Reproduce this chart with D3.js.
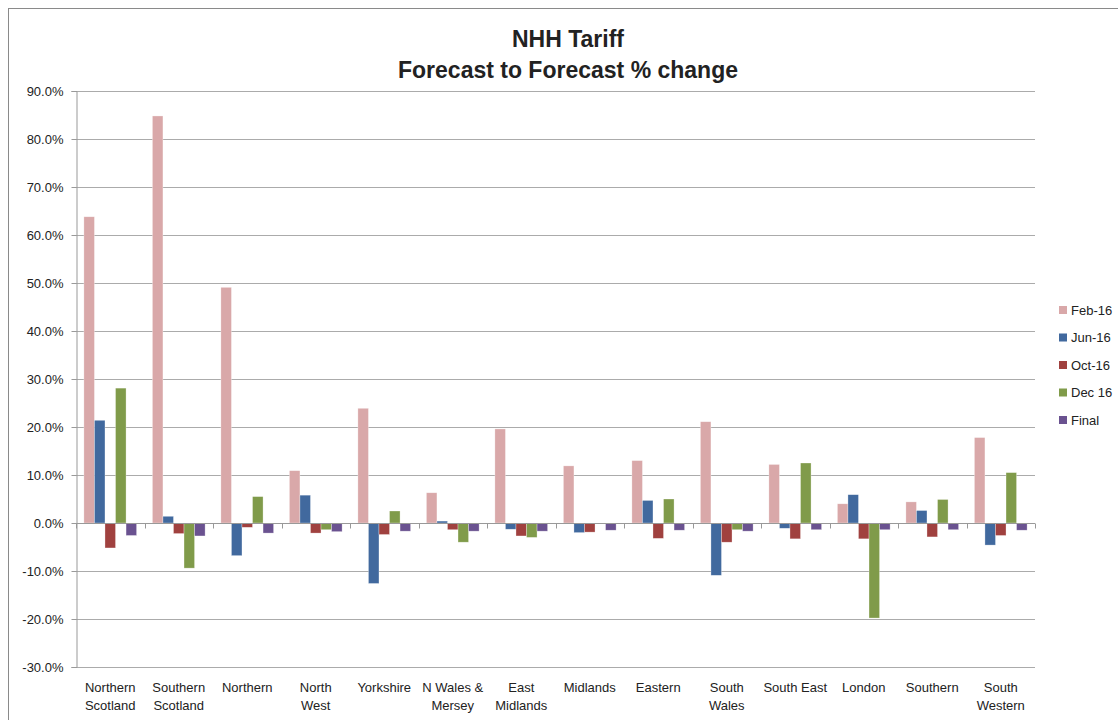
<!DOCTYPE html>
<html>
<head>
<meta charset="utf-8">
<script src="https://cdn.jsdelivr.net/npm/d3@7"></script>
<style>
  html, body { margin: 0; padding: 0; background: #fff; }
  svg { display: block; }
  text { font-family: "Liberation Sans", Arial, sans-serif; fill: #222; }
</style>
</head>
<body>
<svg id="chart" width="1118" height="720"></svg>
<script>
const categories = [
  ["Northern", "Scotland"], ["Southern", "Scotland"], ["Northern"], ["North", "West"],
  ["Yorkshire"], ["N Wales &", "Mersey"], ["East", "Midlands"], ["Midlands"], ["Eastern"],
  ["South", "Wales"], ["South East"], ["London"], ["Southern"], ["South", "Western"]
];
const seriesNames = ["Feb-16", "Jun-16", "Oct-16", "Dec 16", "Final"];
const feb16 = [63.8, 84.8, 49.1, 10.9, 23.9, 6.3, 19.6, 11.9, 13.0, 21.1, 12.2, 4.0, 4.4, 17.8];
const jun16 = [21.4, 1.4, -6.8, 5.8, -12.6, 0.4, -1.3, -2.0, 4.7, -10.9, -1.1, 5.9, 2.6, -4.6];
const oct16 = [-5.2, -2.2, -0.9, -2.1, -2.4, -1.4, -2.7, -1.9, -3.2, -4.0, -3.3, -3.3, -2.9, -2.6];
const dec16 = [28.1, -9.4, 5.5, -1.4, 2.5, -4.0, -3.0, 0.0, 5.0, -1.4, 12.5, -19.8, 4.9, 10.5];
const finalV = [-2.6, -2.7, -2.1, -1.8, -1.7, -1.7, -1.7, -1.5, -1.5, -1.7, -1.4, -1.4, -1.4, -1.5];
const seriesValues = [feb16, jun16, oct16, dec16, finalV];
const colors = ["#D9A8A9", "#41699E", "#A0413F", "#809B4A", "#6A5290"];
const yTicks = [90, 80, 70, 60, 50, 40, 30, 20, 10, 0, -10, -20, -30];
const titleLines = ["NHH Tariff", "Forecast to Forecast % change"];

const svg = d3.select("#chart");
const L = 76, R = 1035, T = 91, B = 667;

// outer border
svg.append("rect").attr("x", 8.5).attr("y", 8.5).attr("width", 1120).attr("height", 720)
  .attr("fill", "none").attr("stroke", "#8a8a8a").attr("stroke-width", 1);

const y = d3.scaleLinear().domain([-30, 90]).range([B, T]);
const x0 = d3.scaleBand().domain(d3.range(categories.length)).range([L, R]).padding(0);
const x1 = d3.scaleBand().domain(d3.range(seriesNames.length)).range([0, x0.bandwidth()])
  .paddingInner(0).paddingOuter(0.75);

// gridlines
svg.append("g").selectAll("line").data(yTicks).join("line")
  .attr("x1", L).attr("x2", R)
  .attr("y1", d => Math.round(y(d)) + 0.5).attr("y2", d => Math.round(y(d)) + 0.5)
  .attr("stroke", "#ababab").attr("stroke-width", 1);

// y axis
const yAxis = d3.axisLeft(y).tickValues(yTicks).tickSize(5).tickFormat(d => d.toFixed(1) + "%");
const gy = svg.append("g").attr("transform", `translate(${L + 0.5},0)`).call(yAxis);
gy.select(".domain").attr("stroke", "#999");
gy.selectAll(".tick line").attr("stroke", "#999");
gy.selectAll(".tick text").attr("font-size", 13).attr("fill", "#222")
  .attr("font-family", "Liberation Sans, Arial, sans-serif").attr("x", -13);

// bars
const data = [];
categories.forEach((c, i) => seriesValues.forEach((vals, s) => data.push({ i, s, v: vals[i] })));
svg.append("g").selectAll("rect").data(data).join("rect")
  .attr("x", d => x0(d.i) + x1(d.s))
  .attr("width", x1.bandwidth())
  .attr("y", d => y(Math.max(0, d.v)))
  .attr("height", d => Math.abs(y(d.v) - y(0)))
  .attr("fill", d => colors[d.s])
  .attr("stroke", "rgba(255,255,255,0.5)").attr("stroke-width", 0.6);

// x axis at zero
const zy = Math.round(y(0)) + 0.5;
svg.append("line").attr("x1", L).attr("x2", R).attr("y1", zy).attr("y2", zy)
  .attr("stroke", "#999");
svg.append("g").selectAll("line").data(d3.range(categories.length + 1)).join("line")
  .attr("x1", d => Math.round(L + d * x0.step()) + 0.5)
  .attr("x2", d => Math.round(L + d * x0.step()) + 0.5)
  .attr("y1", zy).attr("y2", zy + 5).attr("stroke", "#999");

// category labels
const lab = svg.append("g").selectAll("text").data(categories).join("text")
  .attr("text-anchor", "middle").attr("font-size", 13)
  .attr("x", (d, i) => x0(i) + x0.bandwidth() / 2).attr("y", 692);
lab.selectAll("tspan").data(d => d).join("tspan")
  .attr("x", function () { return d3.select(this.parentNode).attr("x"); })
  .attr("dy", (d, k) => k === 0 ? 0 : 18).text(d => d);

// title
svg.append("g").selectAll("text").data(titleLines).join("text")
  .attr("x", 568).attr("y", (d, i) => 47 + i * 31)
  .attr("text-anchor", "middle").attr("font-size", 23).attr("font-weight", "bold")
  .attr("fill", "#000").text(d => d);

// legend
const lg = svg.append("g").selectAll("g").data(seriesNames).join("g")
  .attr("transform", (d, i) => `translate(1059,${310 + i * 27.5})`);
lg.append("rect").attr("x", 0).attr("y", -4).attr("width", 8).attr("height", 8)
  .attr("fill", (d, i) => colors[i]);
lg.append("text").attr("x", 12).attr("y", 4.5).attr("font-size", 13).text(d => d);
</script>
</body>
</html>
